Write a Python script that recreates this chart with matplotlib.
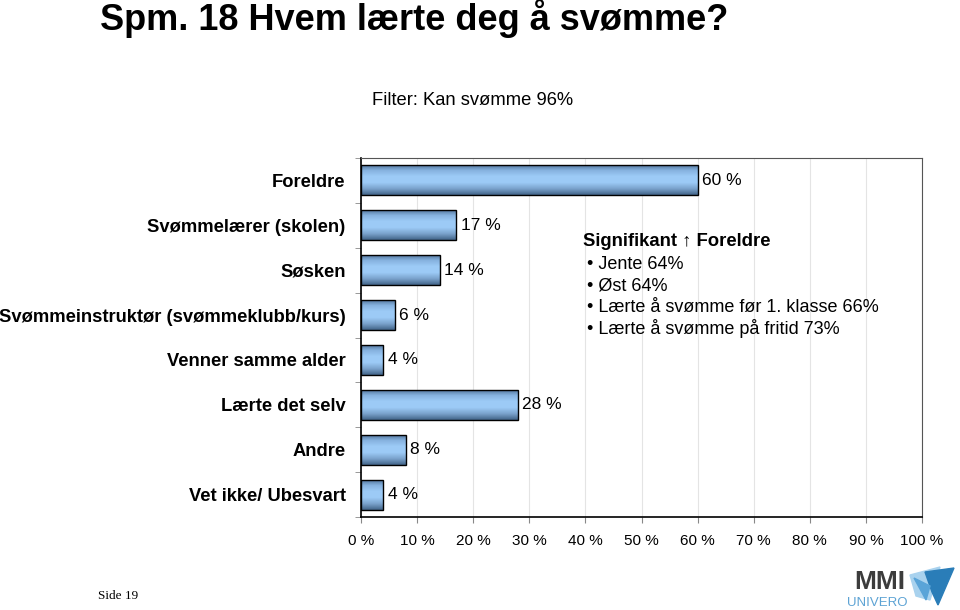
import numpy as np
import matplotlib.pyplot as plt
from matplotlib.colors import LinearSegmentedColormap
from matplotlib.patches import Polygon

categories = ['Foreldre', 'Svømmelærer (skolen)', 'Søsken',
              'Svømmeinstruktør (svømmeklubb/kurs)', 'Venner samme alder',
              'Lærte det selv', 'Andre', 'Vet ikke/ Ubesvart']
values = [60, 17, 14, 6, 4, 28, 8, 4]
xticks = [0, 10, 20, 30, 40, 50, 60, 70, 80, 90, 100]
note_lines = ['• Jente 64%', '• Øst 64%', '• Lærte å svømme før 1. klasse 66%',
              '• Lærte å svømme på fritid 73%']

plt.rcParams['font.family'] = ['Liberation Sans', 'DejaVu Sans']

fig = plt.figure(figsize=(9.6, 6.1), dpi=100)
ax = fig.add_axes([361/960, 1-517/610, 561/960, 359/610])

# cylinder-like shading, dark at the edges and light in the middle
cmap = LinearSegmentedColormap.from_list('bar', ['#4a6d94', '#86b2df', '#9dcbf7', '#9ccaf6', '#7aa2cc', '#426488'])
grad = np.linspace(0, 1, 100).reshape(-1, 1)

y = np.arange(len(categories))
h = 0.67
bars = ax.barh(y, values, height=h, color='none', edgecolor='black', linewidth=1.0, zorder=3)
for b, v, yy in zip(bars, values, y):
    im = ax.imshow(grad, cmap=cmap, aspect='auto', extent=[0, v, yy + h/2, yy - h/2],
                   origin='upper', zorder=2)
    im.set_clip_path(b)
    ax.annotate(f'{v} %', (v, yy), xytext=(3, 0), textcoords='offset points',
                va='center', ha='left', fontsize=12.5)

ax.set_xlim(0, 100)
ax.set_ylim(len(categories) - 0.5, -0.5)
ax.set_xticks(xticks)
ax.set_xticklabels([f'{t} %' for t in xticks], fontsize=11)
ax.set_yticks(y)
ax.set_yticklabels(categories, fontsize=13.2, fontweight='bold')
ax.tick_params(axis='y', length=0, pad=11)
ax.set_yticks(np.arange(-0.5, len(categories), 1), minor=True)
ax.tick_params(axis='y', which='minor', length=4, color='#888888')
ax.tick_params(axis='x', length=4, color='#888888', pad=8)
ax.grid(axis='x', color='#e4e4e4', linewidth=0.8, zorder=0)
ax.set_axisbelow(True)
for s in ['top', 'right']:
    ax.spines[s].set_color('#555555')
    ax.spines[s].set_linewidth(0.8)
for s in ['left', 'bottom']:
    ax.spines[s].set_color('black')
    ax.spines[s].set_linewidth(1.2)

fig.text(100/960, 1-18/610, 'Spm. 18 Hvem lærte deg å svømme?', fontsize=26,
         fontweight='bold', va='center', ha='left')
fig.text(473/960, 1-101/610, 'Filter: Kan svømme 96%', fontsize=13.2, ha='center', va='center')

fig.text(583/960, 1-242/610, 'Signifikant ↑ Foreldre', fontsize=13.3, fontweight='bold',
         va='center', ha='left')
for i, line in enumerate(note_lines):
    fig.text(587/960, 1-(265 + i*21.3)/610, line, fontsize=13, va='center', ha='left')

fig.text(98/960, 1-596/610, 'Side 19', fontsize=9.5, family='Liberation Serif', va='center')

# logo
fig.text(880/960, 1-582/610, 'MMI', fontsize=19, fontweight='bold', color='#3c3c3c',
         ha='center', va='center')
fig.text(877/960, 1-603/610, 'UNIVERO', fontsize=9.5, color='#5da3d4', ha='center', va='center')
logo = [([(910, 575), (940, 567), (930, 600), (916, 596)], '#a9d2ee'),
        ([(925, 572), (954, 568), (938, 605), (932, 592)], '#2a7db8'),
        ([(914, 578), (930, 586), (926, 600)], '#5aa4d8')]
for pts, col in logo:
    fig.patches.append(Polygon([(px/960, 1-py/610) for px, py in pts], closed=True,
                               transform=fig.transFigure, color=col, figure=fig))

fig.savefig('out.png', dpi=100)
